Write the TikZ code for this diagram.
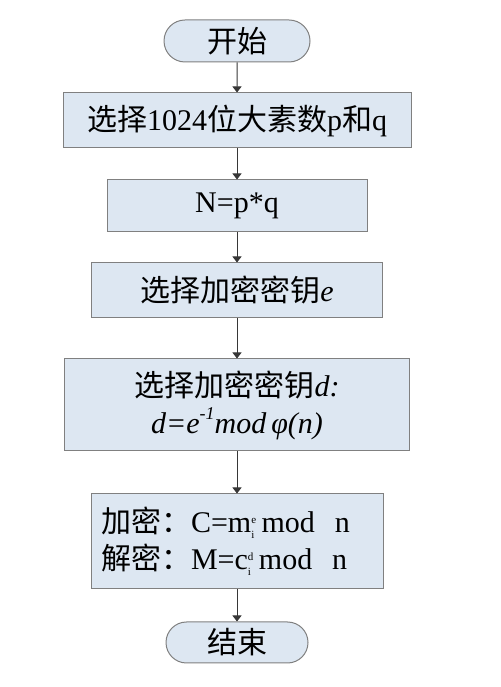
\documentclass[tikz,border=0pt]{standalone}
\usepackage{fontspec}
\setmainfont{Liberation Serif}
\newfontfamily\cjk{Noto Sans CJK SC}
\usetikzlibrary{positioning}
\usetikzlibrary{shapes.misc}
\usetikzlibrary{arrows.meta}
\definecolor{boxfill}{RGB}{221,231,242}
\definecolor{boxline}{RGB}{128,128,128}
\definecolor{arrowline}{RGB}{55,55,55}
\newcommand{\smallidx}[1]{\mbox{\fontsize{11}{11}\selectfont\rmfamily #1}}

\begin{document}
\begin{tikzpicture}[x=1pt,y=1pt,
  nodes={font=\fontsize{30}{37}\selectfont\cjk},
  stepbox/.style={draw=boxline,fill=boxfill,line width=1pt,inner sep=0pt},
  termbox/.style={stepbox,rounded rectangle},
  flow/.style={draw=arrowline,line width=1pt,-{Triangle[width=9pt,length=6pt]}}]
 \useasboundingbox (0,0) rectangle (500,687);
 \node[termbox,minimum width=146,minimum height=42] (start) at (237,646) {开始};
 \node[stepbox,minimum width=348,minimum height=55] (prime) at (237,566.5)
   {选择{\rmfamily 1024}位大素数{\rmfamily p}和{\rmfamily q}};
 \node[stepbox,minimum width=260,minimum height=52] (modn) at (237,481)
   {\rmfamily N=p*q};
 \node[stepbox,minimum width=291,minimum height=55] (ekey) at (237,396.5)
   {选择加密密钥{\rmfamily\itshape e}};
 \node[stepbox,minimum width=345,minimum height=92,align=center] (dkey) at (237,282)
   {选择加密密钥{\rmfamily\itshape d:}\\
    {\rmfamily\itshape d=e\raisebox{0.45em}{\fontsize{18}{18}\selectfont -1}mod\,φ(n)}};
 \node[stepbox,text width=272,inner xsep=10,minimum height=95,align=left] (crypt) at (237,145.5)
   {加密：{\rmfamily C=m$^{\smallidx{e}}_{\smallidx{i}}$\,mod\ \ n}\\
    解密：{\rmfamily M=c$^{\smallidx{d}}_{\smallidx{i}}$\,mod\ \ n}};
 \node[termbox,minimum width=142,minimum height=41] (stop) at (237,44.5) {结束};
 % connectors
 \draw[flow] (start) -- (prime);
 \draw[flow] (prime) -- (modn);
 \draw[flow] (modn) -- (ekey);
 \draw[flow] (ekey) -- (dkey);
 \draw[flow] (dkey) -- (crypt);
 \draw[flow] (crypt) -- (stop);
\end{tikzpicture}
\end{document}
